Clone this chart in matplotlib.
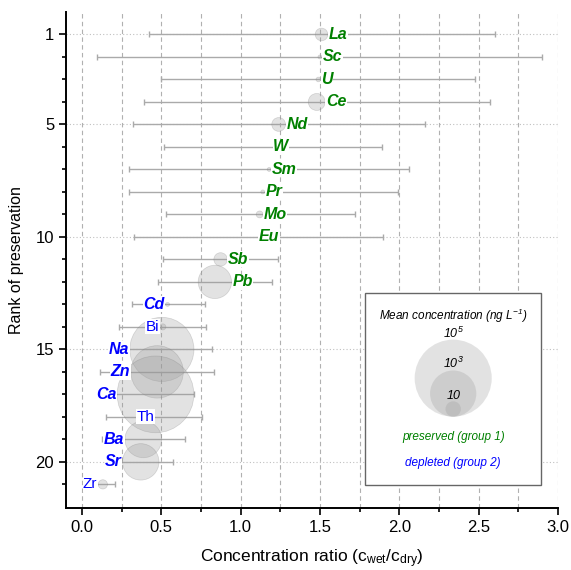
import numpy as np
import matplotlib
matplotlib.use("Agg")
import matplotlib.pyplot as plt
from matplotlib.patches import Rectangle
from matplotlib.transforms import offset_copy

plt.rcParams["font.family"] = ["Liberation Sans", "DejaVu Sans"]
plt.rcParams["mathtext.default"] = "regular"

# element, group (1 = preserved, 2 = depleted), label style
ELEMENTS = ["La", "Sc", "U", "Ce", "Nd", "W", "Sm", "Pr", "Mo", "Eu", "Sb", "Pb",
            "Cd", "Bi", "Na", "Zn", "Ca", "Th", "Ba", "Sr", "Zr"]
GROUP = [1, 1, 1, 1, 1, 1, 1, 1, 1, 1, 1, 1,
         2, 2, 2, 2, 2, 2, 2, 2, 2]
BOLD = [1, 1, 1, 1, 1, 1, 1, 1, 1, 1, 1, 1,
        1, 0, 1, 1, 1, 0, 1, 1, 0]
RANK = np.arange(1, len(ELEMENTS) + 1)

# mean ratio c_wet/c_dry and its min / max
RATIO = [1.51, 1.50, 1.49, 1.48, 1.24, 1.20, 1.18, 1.14, 1.12, 1.11, 0.874, 0.838,
         0.54, 0.51, 0.504, 0.474, 0.464, 0.46, 0.387, 0.371, 0.132]
RATIO_MIN = [0.424, 0.097, 0.50, 0.393, 0.32, 0.52, 0.30, 0.296, 0.527, 0.33, 0.512, 0.477,
             0.317, 0.231, 0.22, 0.113, 0.15, 0.149, 0.124, 0.20, 0.06]
RATIO_MAX = [2.60, 2.90, 2.48, 2.57, 2.16, 1.89, 2.06, 1.99, 1.72, 1.90, 1.237, 1.197,
             0.777, 0.781, 0.821, 0.834, 0.708, 0.758, 0.651, 0.575, 0.208]

# mean concentration (ng/L)
CONC = [6.6, 1.8, 2.0, 12.6, 7.8, 0.8, 1.8, 1.8, 2.8, 0.5, 7.4, 145,
        1.8, 2.5, 14500, 2500, 95000, 0.6, 240, 230, 4.0]

LEGEND_CONC = [1e5, 1e3, 10]
LEGEND_TEXT = ["10$^5$", "10$^3$", "10"]

GROUP_COLORS = {1: "#008000", 2: "#0000ff"}


def diameter_pt(c):
    """Bubble diameter in points grows with log10 of the concentration."""
    return 11.1 * np.clip(np.log10(np.asarray(c, dtype=float)), 0, None)


fig = plt.figure(figsize=(5.71, 5.70), dpi=100)
ax = fig.add_axes([0.1156, 0.1088, 0.8616, 0.8702])

ratio = np.array(RATIO)
xerr = [ratio - np.array(RATIO_MIN), np.array(RATIO_MAX) - ratio]
ax.errorbar(ratio, RANK, xerr=xerr, fmt="none", ecolor="#aaaaaa",
            elinewidth=1.0, capsize=2.5, capthick=1.0, zorder=2)

d = diameter_pt(CONC)
ax.scatter(ratio, RANK, s=d ** 2, c="#999999", alpha=0.28,
           edgecolors="#777777", linewidths=0.5, zorder=3)

for name, g, b, x, y, dd in zip(ELEMENTS, GROUP, BOLD, ratio, RANK, d):
    r = dd / 2 + 0.5
    if g == 1:
        off, ha = r, "left"
    else:
        off, ha = -r, "right"
    ax.annotate(name, (x, y), xytext=(off, 0), textcoords="offset points",
                ha=ha, va="center", color=GROUP_COLORS[g],
                fontsize=11.5 if b else 11,
                fontweight="bold" if b else "normal",
                fontstyle="italic" if b else "normal",
                bbox=dict(fc="white", ec="none", pad=0.3), zorder=5)

ax.set_xlim(-0.1, 3.0)
ax.set_ylim(22.05, 0)
ax.set_xticks(np.arange(0, 3.01, 0.5))
ax.set_xticks(np.arange(0.25, 3.0, 0.5), minor=True)
ax.set_yticks([1, 5, 10, 15, 20])
ax.set_yticks(RANK, minor=True)
ax.tick_params(which="major", direction="out", length=5, width=1.2, labelsize=12)
ax.tick_params(which="minor", direction="out", length=3, width=1.2)
ax.grid(axis="x", which="both", linestyle=(0, (4, 3)), color="#b0b0b0", linewidth=0.8)
ax.grid(axis="y", which="major", linestyle=(0, (1, 2)), color="#c0c0c0", linewidth=0.8)
ax.set_axisbelow(True)
for side in ["top", "right"]:
    ax.spines[side].set_visible(False)
for side in ["left", "bottom"]:
    ax.spines[side].set_linewidth(1.4)

ax.set_xlabel("Concentration ratio (c$_{wet}$/c$_{dry}$)", fontsize=12.5, labelpad=9)
ax.set_ylabel("Rank of preservation", fontsize=11.5, labelpad=8)

# size legend box
ax.add_patch(Rectangle((0.608, 0.046), 0.357, 0.387, transform=ax.transAxes,
                       facecolor="white", edgecolor="#666666", linewidth=1.0, zorder=6))
lx, ly = 0.787, 0.184
ax.text(lx, 0.387, "Mean concentration (ng L$^{-1}$)", transform=ax.transAxes,
        ha="center", va="center", fontsize=8.5, fontstyle="italic", zorder=7)
for c, lab in zip(LEGEND_CONC, LEGEND_TEXT):
    dl = float(diameter_pt(c))
    tr = offset_copy(ax.transAxes, fig=fig, x=0, y=dl / 2, units="points")
    ax.scatter([lx], [ly], s=dl ** 2, c="#999999", alpha=0.28, edgecolors="none",
               transform=tr, zorder=7, clip_on=False)
    tr_txt = offset_copy(ax.transAxes, fig=fig, x=0, y=dl + 1.5, units="points")
    ax.text(lx, ly, lab, transform=tr_txt, ha="center", va="baseline",
            fontsize=9, fontstyle="italic", zorder=8)
ax.text(lx, 0.144, "preserved (group 1)", transform=ax.transAxes, ha="center",
        va="center", fontsize=8.5, fontstyle="italic", color=GROUP_COLORS[1], zorder=7)
ax.text(lx, 0.090, "depleted (group 2)", transform=ax.transAxes, ha="center",
        va="center", fontsize=8.5, fontstyle="italic", color=GROUP_COLORS[2], zorder=7)

fig.savefig("out.png", dpi=100)
